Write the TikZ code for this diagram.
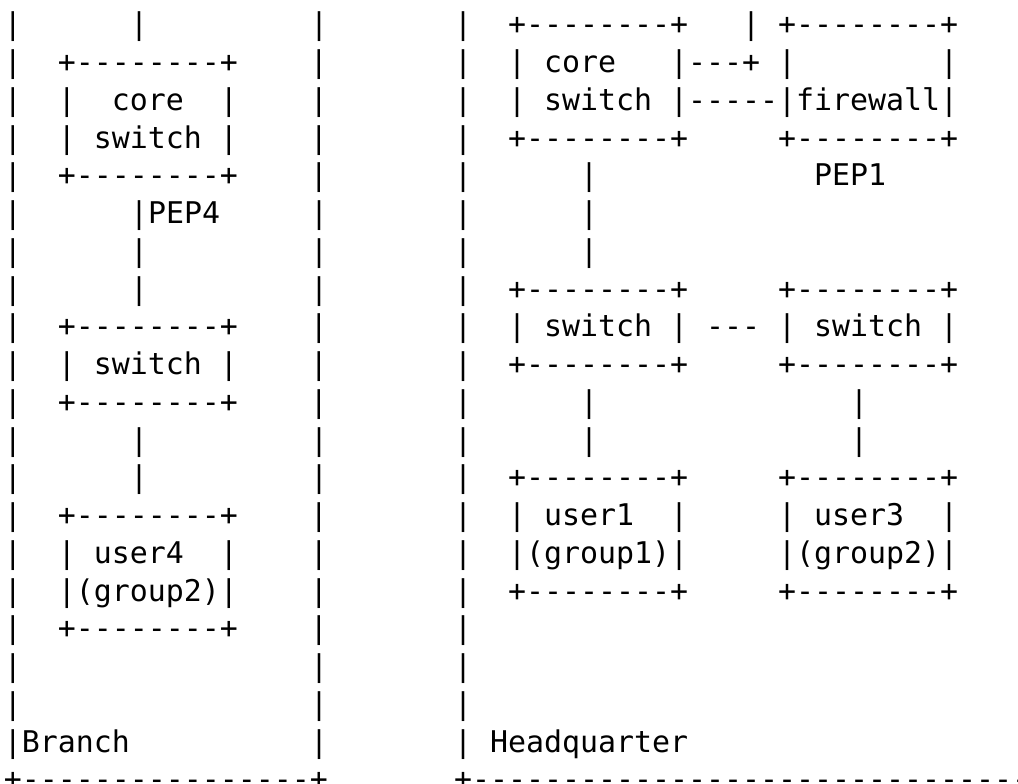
\documentclass[tikz,border=0pt]{standalone}
\usepackage{fontspec}
\setmonofont{DejaVu Sans Mono}
\tikzset{
  asc/.style={font=\ttfamily\fontsize{29.9pt}{37.75pt}\selectfont, inner sep=0pt, outer sep=0pt, anchor=base west, text=black},
}
\newcommand\arow[3]{\node[asc] (#1) at (4,{749-37.75*#2}) {#3};}
\begin{document}
\begin{tikzpicture}[x=1pt,y=1pt]
\useasboundingbox (0,0) rectangle (1018,784);
\fill[white] (0,0) rectangle (1018,784);
\clip (0,0) rectangle (1018,784);
\arow{r0}{0}{|~~~~~~|~~~~~~~~~|~~~~~~~|~~+--------+~~~|~+--------+}
\arow{r1}{1}{|~~+--------+~~~~|~~~~~~~|~~|~core~~~|---+~|~~~~~~~~|}
\arow{r2}{2}{|~~|~~core~~|~~~~|~~~~~~~|~~|~switch~|-----|firewall|}
\arow{r3}{3}{|~~|~switch~|~~~~|~~~~~~~|~~+--------+~~~~~+--------+}
\arow{r4}{4}{|~~+--------+~~~~|~~~~~~~|~~~~~~|~~~~~~~~~~~~PEP1}
\arow{r5}{5}{|~~~~~~|PEP4~~~~~|~~~~~~~|~~~~~~|}
\arow{r6}{6}{|~~~~~~|~~~~~~~~~|~~~~~~~|~~~~~~|}
\arow{r7}{7}{|~~~~~~|~~~~~~~~~|~~~~~~~|~~+--------+~~~~~+--------+}
\arow{r8}{8}{|~~+--------+~~~~|~~~~~~~|~~|~switch~|~---~|~switch~|}
\arow{r9}{9}{|~~|~switch~|~~~~|~~~~~~~|~~+--------+~~~~~+--------+}
\arow{r10}{10}{|~~+--------+~~~~|~~~~~~~|~~~~~~|~~~~~~~~~~~~~~|}
\arow{r11}{11}{|~~~~~~|~~~~~~~~~|~~~~~~~|~~~~~~|~~~~~~~~~~~~~~|}
\arow{r12}{12}{|~~~~~~|~~~~~~~~~|~~~~~~~|~~+--------+~~~~~+--------+}
\arow{r13}{13}{|~~+--------+~~~~|~~~~~~~|~~|~user1~~|~~~~~|~user3~~|}
\arow{r14}{14}{|~~|~user4~~|~~~~|~~~~~~~|~~|(group1)|~~~~~|(group2)|}
\arow{r15}{15}{|~~|(group2)|~~~~|~~~~~~~|~~+--------+~~~~~+--------+}
\arow{r16}{16}{|~~+--------+~~~~|~~~~~~~|}
\arow{r17}{17}{|~~~~~~~~~~~~~~~~|~~~~~~~|}
\arow{r18}{18}{|~~~~~~~~~~~~~~~~|~~~~~~~|}
\arow{r19}{19}{|Branch~~~~~~~~~~|~~~~~~~|~Headquarter}
\arow{r20}{20}{+----------------+~~~~~~~+-----------------------------------}
\end{tikzpicture}
\end{document}
